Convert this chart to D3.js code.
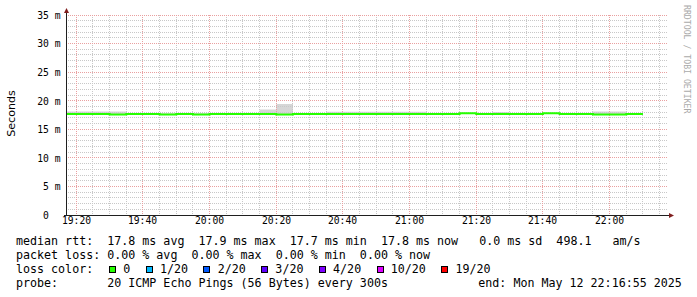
<!DOCTYPE html>
<html><head><meta charset="utf-8">
<script src="https://cdn.jsdelivr.net/npm/d3@7/dist/d3.min.js"></script>
<style>
html,body{margin:0;padding:0;background:#fff;}
svg{display:block;}
text{white-space:pre;}
</style></head><body>
<svg id="c" width="697" height="297"></svg>
<script>
// ---- data ----
const binTimes = ["19:15","19:20","19:25","19:30","19:35","19:40","19:45","19:50","19:55",
  "20:00","20:05","20:10","20:15","20:20","20:25","20:30","20:35","20:40","20:45","20:50","20:55",
  "21:00","21:05","21:10","21:15","21:20","21:25","21:30","21:35","21:40","21:45","21:50","21:55",
  "22:00","22:05"];
const medianMs = [17.8,17.8,17.8,17.7,17.8,17.8,17.7,17.8,17.7,
  17.8,17.8,17.8,17.8,17.7,17.8,17.8,17.8,17.8,17.8,17.8,17.8,
  17.8,17.8,17.8,17.9,17.8,17.8,17.8,17.8,17.9,17.8,17.8,17.7,
  17.7,17.8];
const smokeHiMs = [18.2,18.2,18.2,18.2,17.9,17.9,17.9,17.9,17.9,
  17.9,17.9,17.9,18.55,19.5,17.95,17.95,18.15,18.15,18.15,18.15,18.15,
  18.15,17.95,17.95,17.95,17.95,18.1,17.95,17.95,17.95,17.95,17.95,18.2,
  18.2,17.95];
const smokeLoMs = [17.7,17.7,17.7,17.6,17.7,17.7,17.6,17.7,17.6,
  17.7,17.7,17.7,17.7,17.6,17.7,17.7,17.7,17.7,17.7,17.7,17.7,
  17.7,17.7,17.7,17.8,17.7,17.7,17.7,17.7,17.8,17.7,17.7,17.6,
  17.6,17.7];
const yTickValues = [0,5,10,15,20,25,30,35];
const yTickLabels = ["0\u00a0\u00a0","5 m","10 m","15 m","20 m","25 m","30 m","35 m"];
const xTickLabels = ["19:20","19:40","20:00","20:20","20:40","21:00","21:20","21:40","22:00"];
const lossLabels = ["0","1/20","2/20","3/20","4/20","10/20","19/20"];
const lossColors = ["#26ff00","#00b8ff","#0059ff","#5e00ff","#7e00ff","#dd00ff","#ff0000"];
const legendRtt  = "median rtt:  17.8 ms avg  17.9 ms max  17.7 ms min  17.8 ms now   0.0 ms sd  498.1   am/s";
const legendLoss = "packet loss: 0.00 % avg  0.00 % max  0.00 % min  0.00 % now";
const legendColorTitle = "loss color:";
const legendProbe = "probe:       20 ICMP Echo Pings (56 Bytes) every 300s";
const legendEnd = "end: Mon May 12 22:16:55 2025";
const unitLabel = "Seconds";
const watermark = "RRDTOOL / TOBI OETIKER";
const startTime = "19:16:55", endTime = "22:16:55";

// ---- drawing ----
const parseT = s => { const p = s.split(":").map(Number); return new Date(2025,4,12,p[0],p[1],p[2]||0); };
const svg = d3.select("#c");
const X0 = 66, X1 = 666, Y0 = 215, Y1 = 15;
const x = d3.scaleTime().domain([parseT(startTime), parseT(endTime)]).range([X0, X1]);
const y = d3.scaleLinear().domain([0,35]).range([Y0, Y1]);
const mono = "'DejaVu Sans Mono', monospace";

const bins = binTimes.map((t,i) => ({t: parseT(t), v: medianMs[i], lo: smokeLoMs[i], hi: smokeHiMs[i]}));
const last = bins[bins.length-1];
const pts = bins.concat([{t: d3.timeMinute.offset(last.t, 5), v: last.v, lo: last.lo, hi: last.hi}]);

svg.append("defs").append("clipPath").attr("id","clip")
  .append("rect").attr("x",X0).attr("y",Y1).attr("width",X1-X0).attr("height",Y0-Y1);

const plot = svg.append("g").attr("clip-path","url(#clip)");
// smoke
plot.append("path").datum(pts)
  .attr("d", d3.area().curve(d3.curveStepAfter).x(d=>x(d.t)).y0(d=>y(d.lo)+0.5).y1(d=>y(d.hi)+0.5))
  .attr("fill","#d6d6d6");

// grid
const g = svg.append("g");
const fl = v => Math.floor(v)+0.5;
const majorT = x.ticks(d3.timeMinute.every(20));
const minorT = x.ticks(d3.timeMinute.every(5)).filter(t => t.getMinutes()%20 !== 0);
g.selectAll(".vmin").data(minorT).join("line")
  .attr("x1",d=>fl(x(d))).attr("x2",d=>fl(x(d))).attr("y1",Y1).attr("y2",Y0)
  .attr("stroke","#c8c8c8").attr("stroke-dasharray","1,1");
const minorY = y.ticks(35).filter(v => !yTickValues.includes(v));
g.selectAll(".hmin").data(minorY).join("line")
  .attr("x1",X0).attr("x2",X1+2).attr("y1",d=>fl(y(d))).attr("y2",d=>fl(y(d)))
  .attr("stroke","#c8c8c8").attr("stroke-dasharray","1,1");
g.selectAll(".vmaj").data(majorT).join("line")
  .attr("x1",d=>fl(x(d))).attr("x2",d=>fl(x(d))).attr("y1",Y1).attr("y2",Y0)
  .attr("stroke","#e9a0a0").attr("stroke-dasharray","1,1");
g.selectAll(".hmaj").data(yTickValues.filter(v=>v>0)).join("line")
  .attr("x1",X0).attr("x2",X1+2).attr("y1",d=>fl(y(d))).attr("y2",d=>fl(y(d)))
  .attr("stroke","#e9a0a0").attr("stroke-dasharray","1,1");

// median line
svg.append("g").attr("clip-path","url(#clip)").append("path").datum(pts)
  .attr("d", d3.line().curve(d3.curveStepAfter).x(d=>x(d.t)).y(d=>y(d.v)+0.6))
  .attr("fill","none").attr("stroke",lossColors[0]).attr("stroke-width",2);

// axes
svg.append("line").attr("x1",X0+0.5).attr("x2",X0+0.5).attr("y1",Y0+1).attr("y2",11)
  .attr("stroke","#1f1f1f");
svg.append("line").attr("x1",X0-2).attr("x2",671).attr("y1",Y0+0.5).attr("y2",Y0+0.5)
  .attr("stroke","#1f1f1f");
svg.append("path").attr("d",`M${X0+0.5},8 L${X0+3},13 L${X0-2},13 Z`).attr("fill","#801f1f");
svg.append("path").attr("d",`M674,${Y0+0.5} L669,${Y0-2} L669,${Y0+3} Z`).attr("fill","#801f1f");

// y tick labels
svg.selectAll(".ylab").data(yTickValues).join("text")
  .attr("x",60.5).attr("y",d=>y(d)+3.8).attr("text-anchor","end")
  .attr("font-family",mono).attr("font-size","9.7px").attr("fill","#000")
  .text((d,i)=>yTickLabels[i]);
// x tick labels
svg.selectAll(".xlab").data(majorT).join("text")
  .attr("x",d=>fl(x(d))).attr("y",224.3).attr("text-anchor","middle")
  .attr("font-family",mono).attr("font-size","9.7px").attr("fill","#000")
  .text((d,i)=>xTickLabels[i]);

// unit label
svg.append("text").attr("transform","translate(15.3,113.5) rotate(-90)").attr("text-anchor","middle")
  .attr("font-family","'DejaVu Sans', sans-serif").attr("font-size","11.1px").attr("fill","#000")
  .text(unitLabel);
// watermark
svg.append("text").attr("transform","translate(684,5) rotate(90)")
  .attr("font-family",mono).attr("font-size","8.2px").attr("fill","#aaaaaa")
  .text(watermark);

// legend
const LF = "11.67px", CW = 7.03, LX = 16;
const leg = svg.append("g").attr("font-family",mono).attr("font-size",LF).attr("fill","#000");
leg.append("text").attr("x",LX).attr("y",245).text(legendRtt);
leg.append("text").attr("x",LX).attr("y",259).text(legendLoss);
leg.append("text").attr("x",LX).attr("y",273).text(legendColorTitle);
leg.append("text").attr("x",LX).attr("y",287).text(legendProbe);
leg.append("text").attr("x",478.3).attr("y",287).text(legendEnd);
let pos = 123.3;
lossLabels.forEach((lab,i) => {
  const bx = Math.round(pos - 14.3);
  leg.append("rect").attr("x",bx+0.5).attr("y",266.5).attr("width",6).attr("height",6)
    .attr("fill",lossColors[i]).attr("stroke","#000").attr("stroke-width",1);
  leg.append("text").attr("x",pos).attr("y",273).text(lab);
  pos += lab.length*CW + 29.6;
});
</script>
</body></html>
